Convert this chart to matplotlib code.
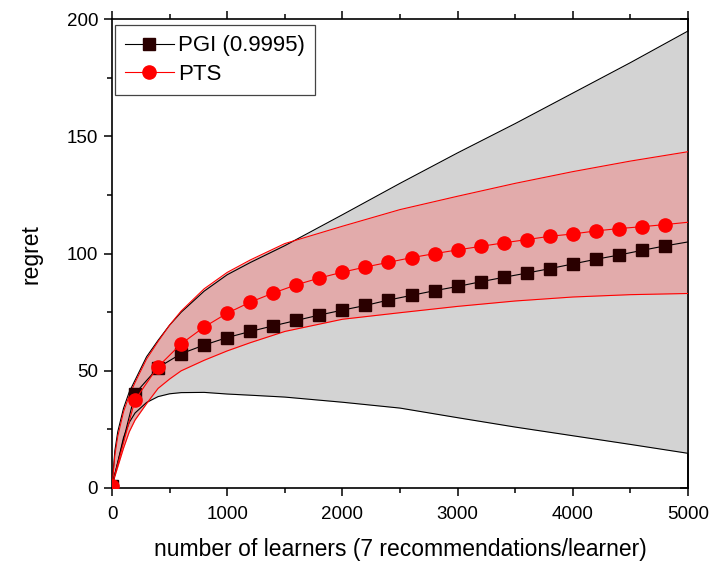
import numpy as np
import matplotlib
matplotlib.use("Agg")
import matplotlib.pyplot as plt
from matplotlib.ticker import MultipleLocator

plt.rcParams['font.family'] = ['Liberation Sans', 'DejaVu Sans']

# mean regret, sampled every 200 learners
learners = np.arange(0, 5001, 200)
pgi_mean = [1.0, 40.3, 51.4, 57.3, 61.0, 64.2, 66.8, 69.2, 71.5, 73.8, 75.9,
            77.9, 80.2, 82.2, 84.2, 86.0, 88.0, 89.9, 91.7, 93.6, 95.6, 97.6,
            99.4, 101.4, 103.3, 105.0]
pts_mean = [1.0, 37.6, 51.8, 61.5, 68.7, 74.6, 79.3, 83.2, 86.7, 89.6, 92.1,
            94.3, 96.3, 98.3, 100.0, 101.6, 103.1, 104.6, 106.0, 107.4, 108.4,
            109.7, 110.7, 111.5, 112.4, 113.4]

# spread envelopes
band_x = [0, 25, 50, 100, 150, 200, 300, 400, 500, 600, 800, 1000, 1200,
          1500, 2000, 2500, 3000, 3500, 4000, 4500, 5000]
pgi_upper = [0.5, 16, 24, 34, 41, 46, 56, 63, 69.5, 75, 84, 91, 96.2, 103.4,
             116.6, 130, 143, 155.5, 168.5, 181.5, 195]
pgi_lower = [0.5, 6, 11, 21.5, 28, 32, 36.5, 39, 40.2, 40.7, 40.8, 40.1, 39.6,
             38.8, 36.6, 34.1, 30, 26, 22.3, 18.6, 14.8]
pts_upper = [0.5, 14, 22, 32.5, 39.5, 45, 55, 62.5, 69.5, 75.5, 85, 92, 97.3,
             104.3, 111.7, 118.8, 124.5, 130, 135, 139.5, 143.5]
pts_lower = [0.5, 5, 9, 17, 24, 29, 36, 42.5, 46.5, 50, 54.5, 58.5, 62, 66.8,
             72, 74.8, 77.5, 79.8, 81.5, 82.5, 83]

fig = plt.figure(figsize=(7.12, 5.63), dpi=100)
ax = fig.add_axes([112 / 712, 75 / 563, 576 / 712, 468.7 / 563])

ax.fill_between(band_x, pgi_lower, pgi_upper, color='#d3d3d3', lw=0, zorder=1)
ax.fill_between(band_x, pts_lower, pts_upper, color='#e2abab', lw=0, zorder=2)
for edge in (pgi_upper, pgi_lower):
    ax.plot(band_x, edge, color='black', lw=0.8, zorder=3)
for edge in (pts_upper, pts_lower):
    ax.plot(band_x, edge, color='red', lw=0.8, zorder=3)

marks = list(range(len(learners) - 1))
ax.plot(learners, pgi_mean, color='black', lw=0.8, marker='s', ms=8,
        mfc='#2a0000', mec='#2a0000', markevery=marks, zorder=4,
        label='PGI (0.9995)')
ax.plot(learners, pts_mean, color='red', lw=0.8, marker='o', ms=9.5,
        mfc='red', mec='red', markevery=marks, zorder=5, label='PTS')

ax.set_xlim(0, 5000)
ax.set_ylim(0, 200)
ax.xaxis.set_major_locator(MultipleLocator(1000))
ax.xaxis.set_minor_locator(MultipleLocator(500))
ax.yaxis.set_major_locator(MultipleLocator(50))
ax.yaxis.set_minor_locator(MultipleLocator(25))

for side in ax.spines.values():
    side.set_linewidth(1.2)
ax.tick_params(which='both', direction='out', top=True, right=False,
               width=1.1, labelsize=13.5)
ax.tick_params(which='major', length=6)
ax.tick_params(axis='x', which='major', pad=7)
ax.tick_params(axis='y', which='major', pad=4)
ax.tick_params(which='minor', length=3.5)

# inward ticks on the right spine
right = ax.secondary_yaxis('right')
right.yaxis.set_major_locator(MultipleLocator(50))
right.yaxis.set_minor_locator(MultipleLocator(25))
right.tick_params(which='both', direction='in', width=1.1, labelright=False)
right.tick_params(which='major', length=6)
right.tick_params(which='minor', length=3.5)
right.spines['right'].set_linewidth(1.2)

ax.set_xlabel('number of learners (7 recommendations/learner)', fontsize=16.5,
              labelpad=11)
ax.set_ylabel('regret', fontsize=16.5, labelpad=17)

leg = ax.legend(loc='upper left', bbox_to_anchor=(3 / 576, 1 - 6 / 468.7),
                fontsize=16, frameon=True, fancybox=False,
                handlelength=2.2, handletextpad=0.2, borderpad=0.45,
                labelspacing=0.35, borderaxespad=0, framealpha=1)
leg.get_frame().set_edgecolor('#444444')
leg.get_frame().set_linewidth(0.9)

fig.savefig('out.png', dpi=100)
